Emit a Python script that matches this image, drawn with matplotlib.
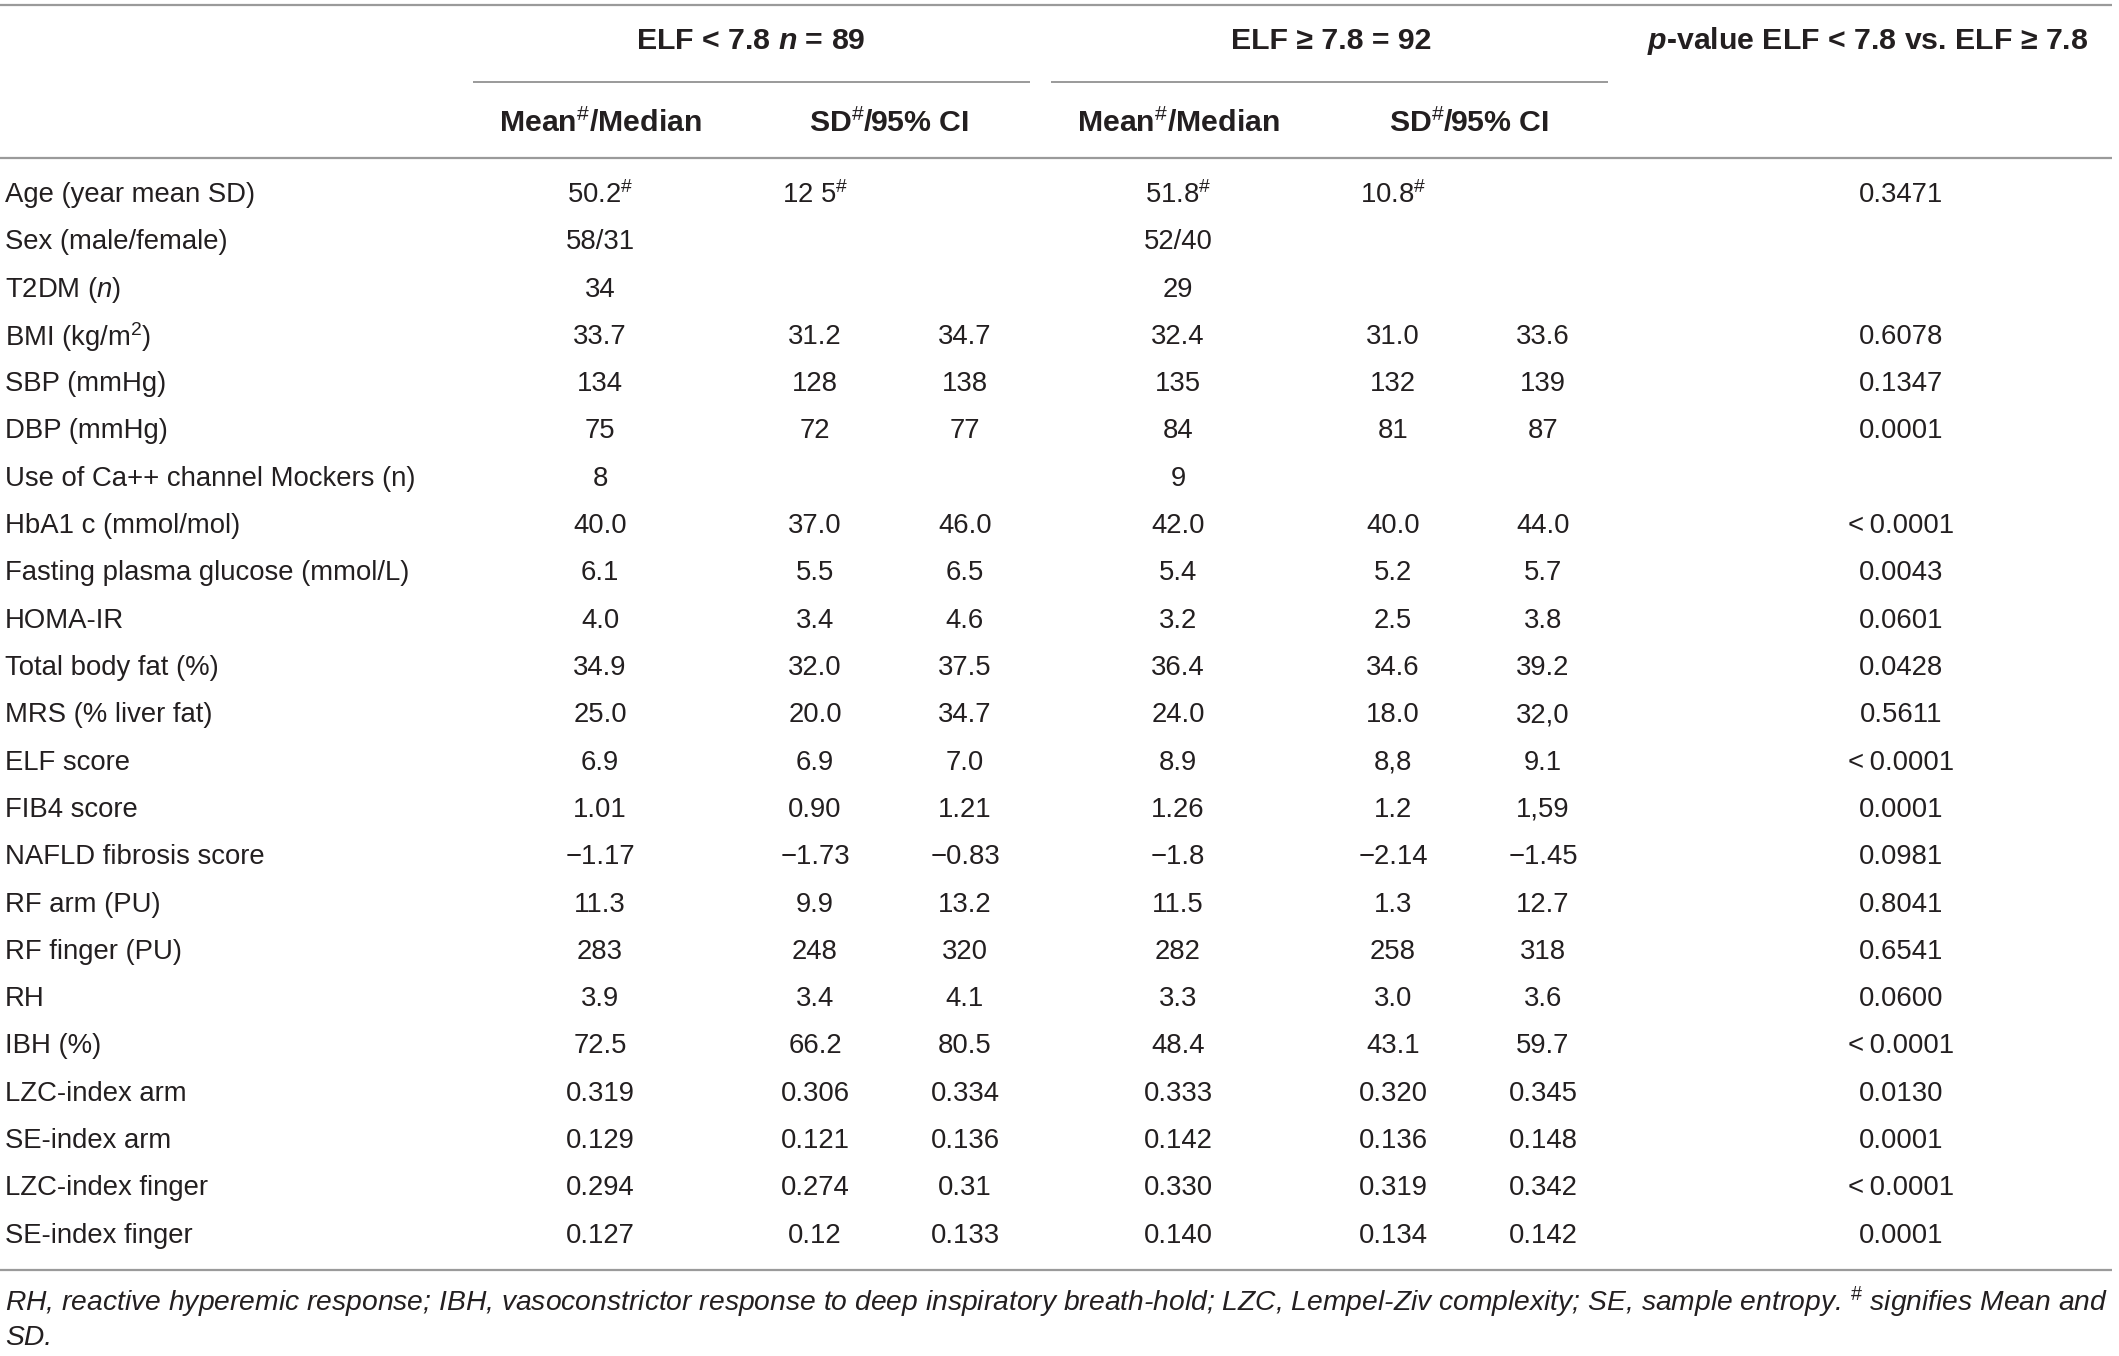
import matplotlib
matplotlib.use("Agg")
import matplotlib.pyplot as plt

plt.rcParams['font.family'] = ['Liberation Sans', 'DejaVu Sans']
plt.rcParams['mathtext.fontset'] = 'custom'
plt.rcParams['mathtext.rm'] = 'Liberation Sans'
plt.rcParams['mathtext.it'] = 'Liberation Sans:italic'
plt.rcParams['mathtext.bf'] = 'Liberation Sans:bold'
plt.rcParams['mathtext.bfit'] = 'Liberation Sans:italic:bold'

SUP = r"$^{\#}$"

# --- table data ---
group_headers = [r"ELF < 7.8 $\mathbfit{n}$ = 89", "ELF ≥ 7.8 = 92"]
pval_header = r"$\mathbfit{p}$-value ELF < 7.8 vs. ELF ≥ 7.8"
sub_headers = ["Mean" + SUP + "/Median", "SD" + SUP + "/95% CI",
               "Mean" + SUP + "/Median", "SD" + SUP + "/95% CI"]

labels = ["Age (year mean SD)", "Sex (male/female)", "T2DM ($n$)", r"BMI (kg/m$^{2}$)",
          "SBP (mmHg)", "DBP (mmHg)", "Use of Ca++ channel Mockers (n)",
          "HbA1 c (mmol/mol)", "Fasting plasma glucose (mmol/L)", "HOMA-IR",
          "Total body fat (%)", "MRS (% liver fat)", "ELF score", "FIB4 score",
          "NAFLD fibrosis score", "RF arm (PU)", "RF finger (PU)", "RH", "IBH (%)",
          "LZC-index arm", "SE-index arm", "LZC-index finger", "SE-index finger"]

low_mean = ["50.2" + SUP, "58/31", "34", "33.7", "134", "75", "8", "40.0", "6.1", "4.0",
            "34.9", "25.0", "6.9", "1.01", "−1.17", "11.3", "283", "3.9", "72.5",
            "0.319", "0.129", "0.294", "0.127"]
low_lo = ["12 5" + SUP, "", "", "31.2", "128", "72", "", "37.0", "5.5", "3.4",
          "32.0", "20.0", "6.9", "0.90", "−1.73", "9.9", "248", "3.4", "66.2",
          "0.306", "0.121", "0.274", "0.12"]
low_hi = ["", "", "", "34.7", "138", "77", "", "46.0", "6.5", "4.6",
          "37.5", "34.7", "7.0", "1.21", "−0.83", "13.2", "320", "4.1", "80.5",
          "0.334", "0.136", "0.31", "0.133"]
high_mean = ["51.8" + SUP, "52/40", "29", "32.4", "135", "84", "9", "42.0", "5.4", "3.2",
             "36.4", "24.0", "8.9", "1.26", "−1.8", "11.5", "282", "3.3", "48.4",
             "0.333", "0.142", "0.330", "0.140"]
high_lo = ["10.8" + SUP, "", "", "31.0", "132", "81", "", "40.0", "5.2", "2.5",
           "34.6", "18.0", "8,8", "1.2", "−2.14", "1.3", "258", "3.0", "43.1",
           "0.320", "0.136", "0.319", "0.134"]
high_hi = ["", "", "", "33.6", "139", "87", "", "44.0", "5.7", "3.8",
           "39.2", "32,0", "9.1", "1,59", "−1.45", "12.7", "318", "3.6", "59.7",
           "0.345", "0.148", "0.342", "0.142"]
p_values = ["0.3471", "", "", "0.6078", "0.1347", "0.0001", "", "<\u20090.0001", "0.0043",
            "0.0601", "0.0428", "0.5611", "<\u20090.0001", "0.0001", "0.0981", "0.8041",
            "0.6541", "0.0600", "<\u20090.0001", "0.0130", "0.0001", "<\u20090.0001", "0.0001"]

footnote = ["RH, reactive hyperemic response; IBH, vasoconstrictor response to deep inspiratory "
            "breath-hold; LZC, Lempel-Ziv complexity; SE, sample entropy. " + SUP + " signifies Mean and",
            "SD."]

columns = [low_mean, low_lo, low_hi, high_mean, high_lo, high_hi, p_values]

# --- layout (pixels) ---
W, H = 2119, 1356
col_x = [600, 815, 965, 1178, 1393, 1543, 1901]
sub_x = [600, 889, 1178, 1469]
group_x = [751, 1331]
row0, row_step = 195, 47.3
txt = "#231f20"
rule = "#9a9a9a"
fs = 19.8      # body
fs_head = 21.8  # bold headers
fs_note = 20.3  # italic footnote

fig = plt.figure(figsize=(W / 100, H / 100), dpi=100)
ax = fig.add_axes([0, 0, 1, 1])
ax.set_xlim(0, W)
ax.set_ylim(H, 0)
ax.axis('off')

# rules
ax.hlines([5, 158, 1270], 0, 2112, color=rule, lw=1.6)
ax.hlines(82, 473, 1030, color=rule, lw=1.4)
ax.hlines(82, 1051, 1608, color=rule, lw=1.4)

# headers
for x, t in zip(group_x, group_headers):
    ax.text(x, 41, t, ha='center', va='center', fontsize=fs_head, fontweight='bold', color=txt)
ax.text(2088, 41, pval_header, ha='right', va='center', fontsize=fs_head, fontweight='bold', color=txt)
for x, t in zip(sub_x, sub_headers):
    ax.text(x, 123, t, ha='center', va='center', fontsize=fs_head, fontweight='bold', color=txt)

# body
for i, lab in enumerate(labels):
    y = row0 + i * row_step
    ax.text(5, y, lab, ha='left', va='center', fontsize=fs, color=txt)
    for x, col in zip(col_x, columns):
        if col[i]:
            ax.text(x, y, col[i], ha='center', va='center', fontsize=fs, color=txt)

# footnote
ax.text(5, 1302, footnote[0], ha='left', va='center', fontsize=fs_note, style='italic', color=txt)
ax.text(5, 1338, footnote[1], ha='left', va='center', fontsize=fs_note, style='italic', color=txt)

fig.savefig("out.png", dpi=100)
